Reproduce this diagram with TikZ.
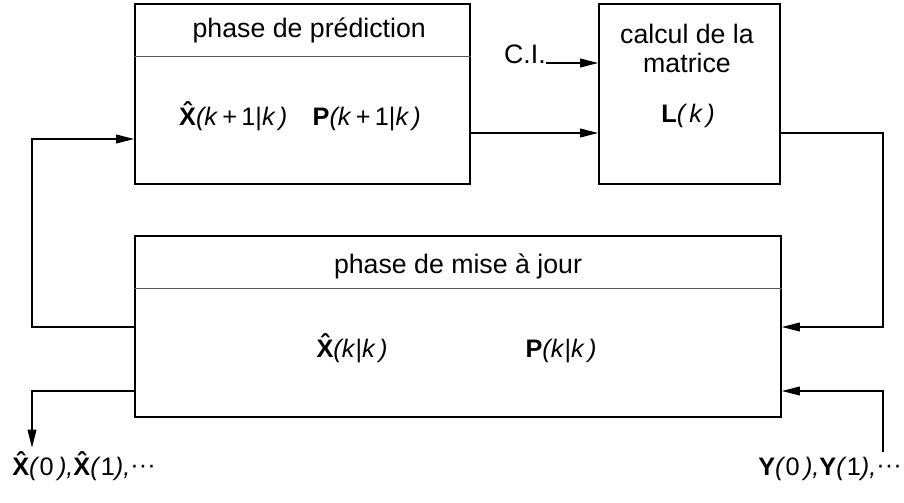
\documentclass[tikz,border=0pt]{standalone}
\usepackage{fontspec}
\setmainfont{Liberation Sans}
\usetikzlibrary{arrows.meta}

\newcommand{\vhat}[1]{\textbf{\accent"02C6 #1}}
\newcommand{\vbf}[1]{\textbf{#1}}
\newcommand{\cdotsx}{\raisebox{0.05em}{···}}

\begin{document}
\begin{tikzpicture}[
	phase box/.style={rectangle,draw,line width=1.3pt,inner sep=0pt},
	label text/.style={inner sep=0pt,font=\fontsize{19}{23}\selectfont},
	value text/.style={inner sep=0pt,font=\fontsize{18}{21}\selectfont},
	head line/.style={draw=black!65,line width=0.7pt},
	flow/.style={line width=0.9pt,-{Triangle[length=4.5mm,width=2.2mm]}}
	]
	\useasboundingbox (0,0) rectangle (22.6,-12.55);
	
	\coordinate (lx) at (0.8,0);
	\coordinate (rx) at (22.075,0);
	
	% les trois blocs
	\node[phase box,minimum width=8.375cm,minimum height=4.5cm] at (7.5625,-2.35) (pred) {};
	\node[phase box,minimum width=4.525cm,minimum height=4.5cm] at (17.2375,-2.35) (mat) {};
	\node[phase box,minimum width=16.15cm,minimum height=4.525cm] at (11.45,-8.1625) (maj) {};
	
	\draw[head line] (pred.west |- 0,-1.4) -- (pred.east |- 0,-1.4);
	\draw[head line] (maj.west |- 0,-7.2) -- (maj.east |- 0,-7.2);
	
	\node[label text,anchor=base] at (7.73,-0.925) (predtitle) {phase de prédiction};
	\node[value text,anchor=base] at (7.5,-3.125) (predval) {\vhat{X}\textit{(k}\,+\,1|\textit{k\,)}\hspace{1em}\vbf{P}\textit{(k}\,+\,1|\textit{k\,)}};
	
	\node[label text,anchor=base] at (17.175,-1.075) (mattitle) {calcul de la};
	\node[label text,anchor=base] at (17.175,-1.8) (mattitleb) {matrice};
	\node[value text,anchor=base] at (17.2,-3.05) (matval) {\vbf{L}\textit{(\,k\,)}};
	
	\node[label text,anchor=base] at (11.45,-6.825) (majtitle) {phase de mise à jour};
	\node[value text,anchor=base] at (8.8,-8.925) (majx) {\vhat{X}\textit{(k}|\textit{k\,)}};
	\node[value text,anchor=base] at (14.025,-8.925) (majp) {\vbf{P}\textit{(k}|\textit{k\,)}};
	
	\node[label text,anchor=base east] at (13.65,-1.575) (ci) {C.I.};
	\node[value text,anchor=base west] at (0.3,-11.875) (xout) {\vhat{X}\textit{(}0\textit{\,),}\vhat{X}\textit{(}1\textit{),}\cdotsx};
	\node[value text,anchor=base east] at (22.55,-11.875) (yin) {\vbf{Y}\textit{(}0\textit{\,),}\vbf{Y}\textit{(}1\textit{),}\cdotsx};
	
	% liaisons
	\draw[flow] (ci.base east) -- (mat.west |- ci.base east);
	\draw[flow] (pred.east |- 0,-3.325) -- (mat.west |- 0,-3.325);
	\draw[flow] (maj.west |- 0,-8.175) -| (lx |- 0,-3.475) -- (pred.west |- 0,-3.475);
	\draw[flow] (maj.west |- 0,-9.775) -| ([yshift=3pt]xout.north -| lx);
	\draw[flow] (mat.east |- 0,-3.325) -| (rx |- 0,-8.175) -- (maj.east |- 0,-8.175);
	\draw[flow] ([yshift=3pt]yin.north -| rx) |- (maj.east |- 0,-9.775);
\end{tikzpicture}
\end{document}
